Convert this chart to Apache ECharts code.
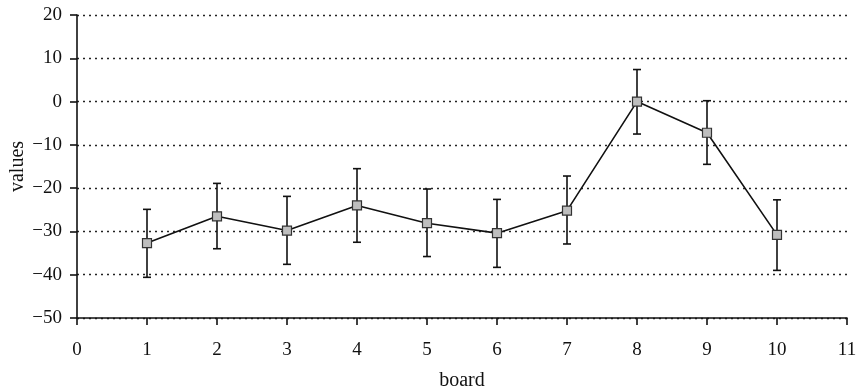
<!DOCTYPE html>
<html>
<head>
<meta charset="utf-8">
<script src="https://cdn.jsdelivr.net/npm/echarts@6/dist/echarts.min.js"></script>
<style>
html,body{margin:0;padding:0;background:#fff;}
#chart{width:858px;height:391px;}
</style>
</head>
<body>
<div id="chart"></div>
<script>
var boards = [1, 2, 3, 4, 5, 6, 7, 8, 9, 10];
var values = [-32.7, -26.5, -29.8, -24.0, -28.1, -30.4, -25.2, 0.0, -7.2, -30.8];
var lowerBounds = [-40.6, -34.0, -37.6, -32.5, -35.8, -38.3, -32.9, -7.5, -14.5, -39.0];
var upperBounds = [-24.9, -18.9, -21.9, -15.5, -20.2, -22.6, -17.2, 7.4, 0.2, -22.7];
var xTicks = {min: 0, max: 11, interval: 1};
var yTicks = {min: -50, max: 20, interval: 10};

var lineData = boards.map(function (b, i) { return [b, values[i]]; });
var errData = boards.map(function (b, i) { return [b, lowerBounds[i], upperBounds[i]]; });

var FONT = '"Liberation Serif", "DejaVu Serif", serif';
function minus(v) { return String(v).replace('-', '\u2212'); }

var chart = echarts.init(document.getElementById('chart'), null, {renderer: 'canvas'});
chart.setOption({
  animation: false,
  backgroundColor: '#ffffff',
  grid: {left: 77, right: 11, top: 15, bottom: 73, containLabel: false, outerBoundsMode: 'none'},
  xAxis: {
    type: 'value',
    min: xTicks.min, max: xTicks.max, interval: xTicks.interval,
    name: 'board',
    nameLocation: 'middle',
    nameGap: 53,
    nameMoveOverlap: false,
    nameTextStyle: {fontFamily: FONT, fontSize: 20, color: '#111'},
    axisLine: {show: true, onZero: false, lineStyle: {color: '#111', width: 1.6}},
    axisTick: {show: true, inside: false, length: 7, lineStyle: {color: '#111', width: 1.6}},
    axisLabel: {fontFamily: FONT, fontSize: 19, color: '#111', margin: 23, formatter: minus},
    splitLine: {show: false}
  },
  yAxis: {
    type: 'value',
    min: yTicks.min, max: yTicks.max, interval: yTicks.interval,
    name: 'values',
    nameLocation: 'middle',
    nameGap: 49,
    nameMoveOverlap: false,
    nameRotate: 90,
    nameTextStyle: {fontFamily: FONT, fontSize: 20, color: '#111'},
    axisLine: {show: true, onZero: false, lineStyle: {color: '#111', width: 1.6}},
    axisTick: {show: true, inside: false, length: 7, lineStyle: {color: '#111', width: 1.6}},
    axisLabel: {fontFamily: FONT, fontSize: 19, color: '#111', margin: 15, formatter: minus},
    splitLine: {show: true, lineStyle: {color: '#222', width: 1.4, type: [2, 4]}}
  },
  series: [
    {
      type: 'custom',
      z: 2,
      data: errData,
      renderItem: function (params, api) {
        var x = api.value(0);
        var pLo = api.coord([x, api.value(1)]);
        var pHi = api.coord([x, api.value(2)]);
        var hw = 4;
        var st = {stroke: '#111', lineWidth: 1.6};
        return {
          type: 'group',
          children: [
            {type: 'line', shape: {x1: pHi[0], y1: pHi[1], x2: pLo[0], y2: pLo[1]}, style: st},
            {type: 'line', shape: {x1: pHi[0] - hw, y1: pHi[1], x2: pHi[0] + hw, y2: pHi[1]}, style: st},
            {type: 'line', shape: {x1: pLo[0] - hw, y1: pLo[1], x2: pLo[0] + hw, y2: pLo[1]}, style: st}
          ]
        };
      }
    },
    {
      type: 'line',
      z: 5,
      data: lineData,
      symbol: 'rect',
      symbolSize: 9,
      lineStyle: {color: '#111', width: 1.6},
      itemStyle: {color: '#bebebe', borderColor: '#333', borderWidth: 1.2}
    }
  ]
});
</script>
</body>
</html>
